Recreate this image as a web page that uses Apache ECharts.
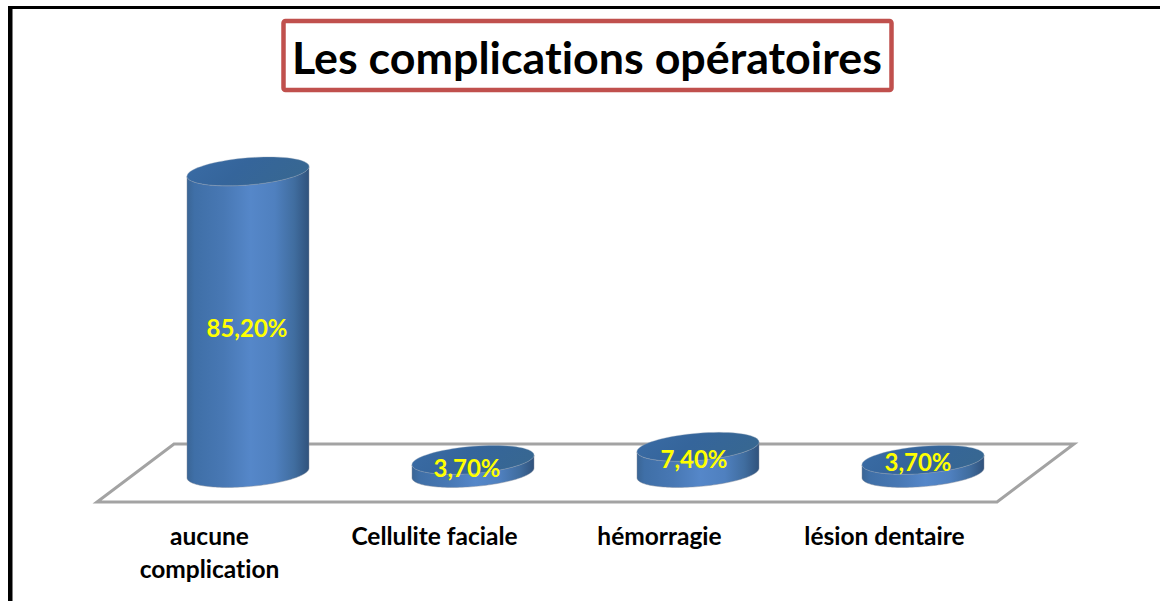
<!DOCTYPE html>
<html>
<head>
<meta charset="utf-8">
<script src="https://cdn.jsdelivr.net/npm/echarts@6/dist/echarts.min.js"></script>
<style>html,body{margin:0;padding:0;background:#fff}#c{width:1160px;height:601px}
svg text{font-variant-ligatures:none;font-feature-settings:"liga" 0,"clig" 0}</style>
</head>
<body>
<div id="c"></div>
<script>
const categories = ['aucune\ncomplication', 'Cellulite faciale', 'hémorragie', 'lésion dentaire'];
const values = [85.2, 3.7, 7.4, 3.7];
const titleText = 'Les complications opératoires';

const FONT = 'Lato, "Open Sans", sans-serif';
const DEPTH_X = 77, DEPTH_Y = 58;
const RADIUS_X = 61, RADIUS_Y = 13.6, SKEW = -0.08;
const labelNudge = [[-1, 5], [-6, 1], [-4, -1], [-5, -5]];

const chart = echarts.init(document.getElementById('c'), null, { renderer: 'svg' });

function ellipse(cx, cy, from, to) {
  const pts = [];
  const n = 72;
  for (let i = 0; i <= n; i++) {
    const t = from + (to - from) * i / n;
    const dx = RADIUS_X * Math.cos(t);
    pts.push([cx + dx, cy + SKEW * dx + RADIUS_Y * Math.sin(t)]);
  }
  return pts;
}

function renderFloor(params, api) {
  const band = api.size([1, 0])[0];
  const p0 = api.coord([0, 0]);
  const p3 = api.coord([categories.length - 1, 0]);
  const l = p0[0] - band / 2, r = p3[0] + band / 2, y = p0[1];
  return {
    type: 'polygon',
    shape: { points: [[l, y], [r, y], [r + DEPTH_X, y - DEPTH_Y], [l + DEPTH_X, y - DEPTH_Y]] },
    style: { fill: '#fff', stroke: '#a3a3a3', lineWidth: 3 },
    silent: true
  };
}

function renderCylinder(params, api) {
  const i = api.value(0), v = api.value(1);
  const base = api.coord([i, 0]), top = api.coord([i, v]);
  const cx = base[0] + DEPTH_X / 2;
  const by = base[1] - DEPTH_Y / 2;
  const ty = top[1] - DEPTH_Y / 2;
  const lower = ellipse(cx, by, 0, Math.PI);
  const upperPts = ellipse(cx, ty, Math.PI, 0);
  const nudge = labelNudge[i];
  const side = new echarts.graphic.LinearGradient(0, 0, 1, 0, [
    { offset: 0, color: '#3a6595' },
    { offset: 0.06, color: '#3f6fa7' },
    { offset: 0.3, color: '#4878b4' },
    { offset: 0.52, color: '#5587c9' },
    { offset: 0.72, color: '#4f80bf' },
    { offset: 0.88, color: '#406d9f' },
    { offset: 1, color: '#30527c' }
  ]);
  const lid = new echarts.graphic.LinearGradient(0, 0, 1, 0.25, [
    { offset: 0, color: '#3a6ca6' },
    { offset: 0.5, color: '#35659b' },
    { offset: 1, color: '#376792' }
  ]);
  return {
    type: 'group',
    children: [
      {
        type: 'polygon',
        shape: { points: upperPts.concat(lower) },
        style: { fill: side, stroke: 'rgba(130,140,155,0.45)', lineWidth: 1 }
      },
      {
        type: 'polygon',
        shape: { points: ellipse(cx, ty, 0, Math.PI * 2) },
        style: { fill: lid, stroke: 'rgba(150,165,185,0.35)', lineWidth: 1 }
      },
      {
        type: 'text',
        style: {
          text: v.toFixed(2).replace('.', ',') + '%',
          x: cx + nudge[0],
          y: (by + ty) / 2 + nudge[1],
          fill: '#ffff00',
          font: 'bold 24px ' + FONT,
          align: 'center',
          verticalAlign: 'middle'
        }
      }
    ]
  };
}

chart.setOption({
  animation: false,
  backgroundColor: '#fff',
  title: {
    text: titleText,
    left: 283,
    top: 21,
    padding: [10.5, 9, 8.5, 9],
    borderColor: '#c0504d',
    borderWidth: 4.5,
    borderRadius: 2,
    textStyle: { fontFamily: FONT, fontWeight: 'bold', fontSize: 44.8, color: '#000', lineHeight: 50 }
  },
  grid: { left: 97, width: 900, top: 148, height: 354 },
  xAxis: {
    type: 'category',
    data: categories,
    axisLine: { show: false },
    axisTick: { show: false },
    axisLabel: { interval: 0, margin: 16.5, color: '#000', fontFamily: FONT, fontWeight: 'bold', fontSize: 24.5, lineHeight: 33 }
  },
  yAxis: { type: 'value', min: 0, max: 100, show: false, splitLine: { show: false } },
  graphic: [
    { type: 'rect', shape: { x: 8, y: 6, width: 1152, height: 3 }, style: { fill: '#000' }, silent: true },
    { type: 'rect', shape: { x: 8, y: 6, width: 4.5, height: 595 }, style: { fill: '#000' }, silent: true }
  ],
  series: [
    { type: 'custom', coordinateSystem: 'cartesian2d', silent: true, z: 1, renderItem: renderFloor, data: [[0, 0]], encode: { x: 0, y: 1 } },
    { type: 'custom', coordinateSystem: 'cartesian2d', silent: true, z: 2, renderItem: renderCylinder, data: values.map((v, i) => [i, v]), encode: { x: 0, y: 1 } }
  ]
});
</script>
</body>
</html>
